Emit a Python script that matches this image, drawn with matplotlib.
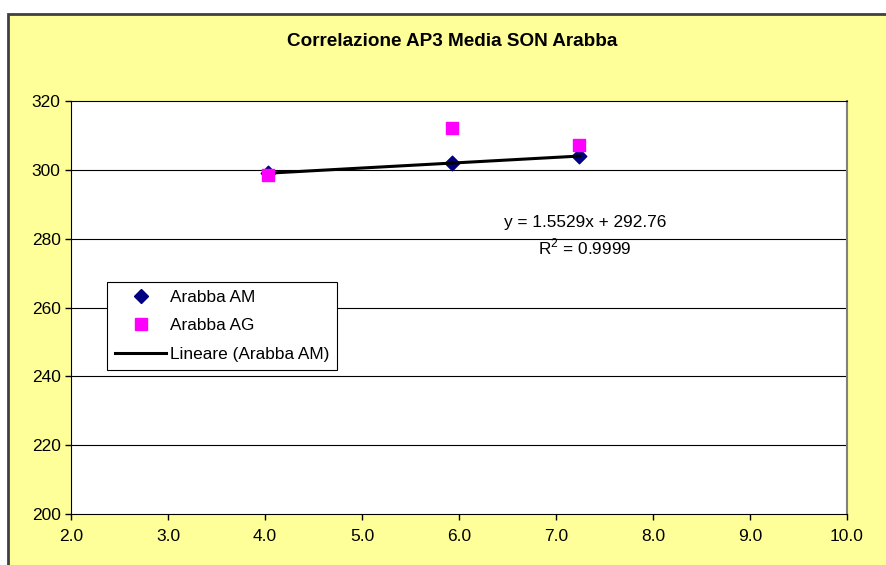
import matplotlib
matplotlib.use("Agg")
from matplotlib import pyplot as plt
from matplotlib.patches import Rectangle
from matplotlib.lines import Line2D
import numpy as np

x_am = [4.03, 5.93, 7.24]
y_am = [299.02, 301.97, 304.00]
x_ag = [4.03, 5.93, 7.24]
y_ag = [298.4, 312.3, 307.2]
x_ticks = [2.0, 3.0, 4.0, 5.0, 6.0, 7.0, 8.0, 9.0, 10.0]
y_ticks = [200, 220, 240, 260, 280, 300, 320]
title = "Correlazione AP3 Media SON Arabba"
equation = "y = 1.5529x + 292.76"
r2_text = "R$^2$ = 0.9999"

plt.rcParams['font.family'] = ['Liberation Sans', 'DejaVu Sans']
plt.rcParams['mathtext.fontset'] = 'custom'
plt.rcParams['mathtext.rm'] = 'Liberation Sans'

fig = plt.figure(figsize=(8.86, 5.65), dpi=100)
fig.patch.set_facecolor("white")

# yellow chart area with dark border
W, H = 886, 565
fig.patches.append(Rectangle((8 / W, -0.1), 1.2, (565 - 14) / H + 0.1,
                             transform=fig.transFigure, facecolor="#FFFF99",
                             edgecolor="#404040", linewidth=2, zorder=-5))

ax = fig.add_axes([71 / W, (565 - 514) / H, (847 - 71) / W, (514 - 101) / H])
ax.set_facecolor("white")

for y in y_ticks[1:-1]:
    ax.axhline(y, color="black", linewidth=0.8, zorder=1)

ax.scatter(x_am, y_am, marker="D", s=55, color="#000080", zorder=3)
ax.scatter(x_ag, y_ag, marker="s", s=70, color="#FF00FF", zorder=4)

coef = np.polyfit(x_am, y_am, 1)
xs = np.array([min(x_am), max(x_am)])
ax.plot(xs, np.polyval(coef, xs), color="black", linewidth=2.2, zorder=3.5)

ax.set_xlim(2, 10)
ax.set_ylim(200, 320)
ax.set_xticks(x_ticks)
ax.set_xticklabels([f"{v:.1f}" for v in x_ticks])
ax.set_yticks(y_ticks)
ax.tick_params(axis="both", direction="out", length=4, width=1, labelsize=12.5, color="black")
ax.tick_params(axis="x", pad=7)
ax.spines["left"].set_color("black")
ax.spines["bottom"].set_color("black")
ax.spines["top"].set_color("black")
ax.spines["right"].set_color("#808080")
ax.spines["right"].set_linewidth(1.5)

fig.text(452 / W, (565 - 42) / H, title, ha="center", va="center",
         fontsize=13.6, fontweight="bold")

ax.text(7.3, 284.6, equation, ha="center", va="center", fontsize=12.4)
ax.text(7.3, 277.6, r2_text, ha="center", va="center", fontsize=12.4)

handles = [
    Line2D([], [], marker="D", color="#000080", linestyle="none", markersize=7),
    Line2D([], [], marker="s", color="#FF00FF", linestyle="none", markersize=8),
    Line2D([], [], color="black", linewidth=2.2),
]
labels = ["Arabba AM", "Arabba AG", "Lineare (Arabba AM)"]
leg = ax.legend(handles, labels, loc="upper left",
                bbox_to_anchor=((107 - 71) / (847 - 71), (514 - 282) / (514 - 101)),
                frameon=True, fancybox=False, edgecolor="black", framealpha=1,
                fontsize=12.4, handlelength=3.0, handletextpad=0.2,
                borderpad=0.45, labelspacing=0.78, borderaxespad=0)
leg.get_frame().set_linewidth(0.8)

fig.savefig("out.png", dpi=100)
